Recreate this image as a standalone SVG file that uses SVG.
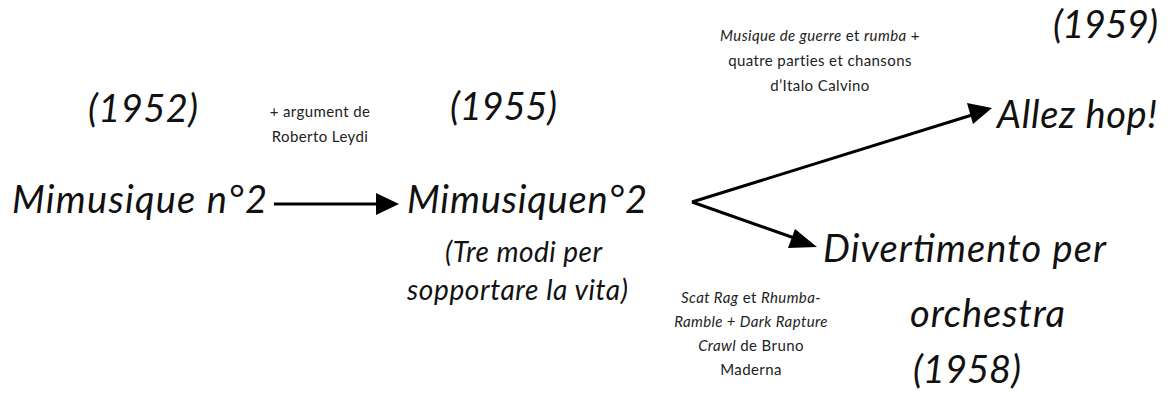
<svg xmlns="http://www.w3.org/2000/svg" width="1170" height="396" viewBox="0 0 1170 396">
<style>
.big{font-family:Lato,"Liberation Sans",sans-serif;font-style:italic;font-size:38px;fill:#111}
.mid{font-family:Lato,"Liberation Sans",sans-serif;font-style:italic;font-size:28px;fill:#111}
.sm{font-family:Lato,"Liberation Sans",sans-serif;font-size:15px;letter-spacing:0.4px;fill:#222}
.it{font-style:italic}
.conn{stroke:#000;stroke-width:3;fill:none}
</style>
<rect width="1170" height="396" fill="#fff"/>
<g id="n1952">
<text class="big" x="88" y="122" textLength="110">(1952)</text>
<text class="big" x="12" y="213" font-size="39" textLength="255">Mimusique n°2</text>
</g>
<g id="n1955">
<text class="big" x="450" y="120" textLength="107">(1955)</text>
<text class="big" x="407" y="213" textLength="240">Mimusiquen°2</text>
<text class="mid" x="445" y="262" textLength="157">(Tre modi per</text>
<text class="mid" x="407" y="300" textLength="221">sopportare la vita)</text>
</g>
<g id="n1959">
<text class="big" x="1053" y="38" font-size="37" textLength="105">(1959)</text>
<text class="big" x="997" y="128" textLength="160">Allez hop!</text>
</g>
<g id="n1958">
<text class="big" x="823" y="262" font-size="37" textLength="283">Divertimento per</text>
<text class="big" x="910" y="327" font-size="37" textLength="155">orchestra</text>
<text class="big" x="913" y="383" font-size="37" textLength="108">(1958)</text>
</g>
<g id="labels">
<text class="sm" x="320" y="117" text-anchor="middle">+ argument de</text>
<text class="sm" x="320" y="142" text-anchor="middle">Roberto Leydi</text>
<text class="sm" x="820" y="41" text-anchor="middle"><tspan class="it">Musique de guerre</tspan> et <tspan class="it">rumba</tspan> +</text>
<text class="sm" x="820" y="66" text-anchor="middle">quatre parties et chansons</text>
<text class="sm" x="820" y="91" text-anchor="middle">d’Italo Calvino</text>
<text class="sm" x="751" y="303" text-anchor="middle"><tspan class="it">Scat Rag</tspan> et <tspan class="it">Rhumba-</tspan></text>
<text class="sm" x="751" y="327" text-anchor="middle" font-style="italic">Ramble + Dark Rapture</text>
<text class="sm" x="751" y="351" text-anchor="middle"><tspan class="it">Crawl</tspan> de Bruno</text>
<text class="sm" x="751" y="375" text-anchor="middle">Maderna</text>
</g>
<g id="connectors">
<path class="conn" d="M274,204 L380,204"/>
<path d="M376,193 L399,204 L376,215 z" fill="#000"/>
<path class="conn" d="M692,202 L972,115"/>
<path d="M967,103 L992,108 L973,124 z" fill="#000"/>
<path class="conn" d="M692,202 L800,240"/>
<path d="M795,229 L817,247 L788,248 z" fill="#000"/>
</g>
</svg>
